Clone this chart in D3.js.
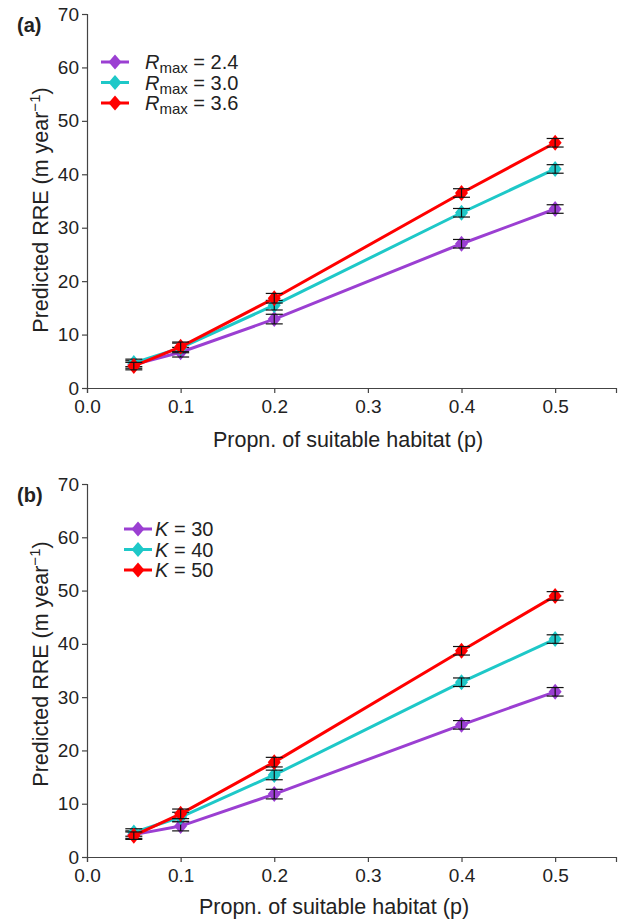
<!DOCTYPE html>
<html>
<head>
<meta charset="utf-8">
<script src="https://cdn.jsdelivr.net/npm/d3@7"></script>
<style>
  body { margin: 0; background: #fff; }
  text { font-family: "Liberation Sans", Arial, sans-serif; fill: #222; }
</style>
</head>
<body>
<div id="app"></div>
<script>
// data
const props = [0.05, 0.1, 0.2, 0.4, 0.5];
const xTicks = [0.0, 0.1, 0.2, 0.3, 0.4, 0.5];
const yTicks = [0, 10, 20, 30, 40, 50, 60, 70];

const rmaxLabels = ['2.4', '3.0', '3.6'];
const rmax24 = [4.4, 6.7, 12.9, 27.0, 33.5];
const rmax30 = [4.7, 7.5, 15.5, 32.8, 41.0];
const rmax36 = [4.1, 7.7, 16.8, 36.5, 45.9];
const errA = [0.7, 0.9, 0.9, 0.8, 0.8];

const kLabels = ['30', '40', '50'];
const k30 = [4.2, 5.8, 11.8, 24.8, 31.0];
const k40 = [4.6, 7.5, 15.4, 32.8, 40.9];
const k50 = [4.0, 8.1, 17.8, 38.7, 49.0];
const errB = [0.7, 0.9, 0.9, 0.8, 0.8];

const colors = ['#9b3fd2', '#1ec8c8', '#ff0000'];

const width = 618, height = 921;
const svg = d3.select('#app').append('svg')
  .attr('width', width).attr('height', height);

const x = d3.scaleLinear().domain([0, 0.565]).range([87, 616]);

function panel(opt) {
  const g = svg.append('g');
  const y = d3.scaleLinear().domain([0, 70]).range([opt.y0, opt.y1]);

  // axes
  const xAxis = d3.axisBottom(x).tickValues(xTicks).tickFormat(d3.format('.1f'))
    .tickSizeOuter(0).tickSize(5).tickPadding(3);
  const gx = g.append('g').attr('transform', `translate(0,${opt.y0})`).call(xAxis);
  const yAxis = d3.axisLeft(y).tickValues(yTicks).tickSizeOuter(0).tickSize(5).tickPadding(3);
  const gy = g.append('g').attr('transform', `translate(${x(0)},0)`).call(yAxis);
  [gx, gy].forEach(a => {
    a.selectAll('path, line').attr('stroke', '#444').attr('stroke-width', 1.2);
    a.selectAll('text').style('font-size', '19px').attr('fill', '#222');
  });
  gx.selectAll('text').attr('dy', '0.9em');

  // series
  opt.series.forEach((vals, si) => {
    const pts = props.map((p, i) => ({ p, v: vals[i], e: opt.err[i] }));
    g.append('path').datum(pts)
      .attr('fill', 'none').attr('stroke', colors[si]).attr('stroke-width', 3)
      .attr('d', d3.line().x(d => x(d.p)).y(d => y(d.v)));
    g.selectAll(null).data(pts).join('path')
      .attr('d', 'M0,-8L6.5,0L0,8L-6.5,0Z')
      .attr('transform', d => `translate(${x(d.p)},${y(d.v)})`)
      .attr('fill', colors[si]);
    const eb = g.selectAll(null).data(pts).join('g')
      .attr('stroke', '#111').attr('stroke-width', 1.2);
    eb.append('line').attr('x1', d => x(d.p)).attr('x2', d => x(d.p))
      .attr('y1', d => y(d.v - d.e)).attr('y2', d => y(d.v + d.e));
    eb.append('line').attr('x1', d => x(d.p) - 8.5).attr('x2', d => x(d.p) + 8.5)
      .attr('y1', d => y(d.v - d.e)).attr('y2', d => y(d.v - d.e));
    eb.append('line').attr('x1', d => x(d.p) - 8.5).attr('x2', d => x(d.p) + 8.5)
      .attr('y1', d => y(d.v + d.e)).attr('y2', d => y(d.v + d.e));
  });

  // legend
  opt.labels.forEach((lab, i) => {
    const ly = opt.legY + i * 20.5;
    g.append('line').attr('x1', opt.legX - 14).attr('x2', opt.legX + 14)
      .attr('y1', ly).attr('y2', ly).attr('stroke', colors[i]).attr('stroke-width', 3);
    g.append('path').attr('d', 'M0,-7.5L6.5,0L0,7.5L-6.5,0Z')
      .attr('transform', `translate(${opt.legX},${ly})`).attr('fill', colors[i]);
    const t = g.append('text').attr('x', opt.legX + opt.textGap).attr('y', ly + 7)
      .style('font-size', '20px');
    t.append('tspan').attr('font-style', 'italic').text(opt.sym);
    if (opt.sub) {
      t.append('tspan').attr('dy', 4).style('font-size', '15px').text(opt.sub);
      t.append('tspan').attr('dy', -4).text(' = ' + lab);
    } else {
      t.append('tspan').text(' = ' + lab);
    }
  });

  // titles
  g.append('text').attr('x', 17).attr('y', opt.y1 + 18)
    .style('font-size', '20px').style('font-weight', 'bold').text(opt.tag);
  g.append('text').attr('x', opt.titleX).attr('y', opt.y0 + opt.titleDy)
    .attr('text-anchor', 'middle').style('font-size', '21.5px')
    .text('Propn. of suitable habitat (p)');
  const yt = g.append('text')
    .attr('transform', `translate(48,${opt.yTitleY}) rotate(-90)`)
    .attr('text-anchor', 'middle').style('font-size', '21.5px');
  yt.append('tspan').text('Predicted RRE (m year');
  yt.append('tspan').attr('dy', -8).style('font-size', '15px').text('\u22121');
  yt.append('tspan').attr('dy', 8).text(')');
}

panel({ y0: 388, y1: 14, series: [rmax24, rmax30, rmax36], err: errA,
  labels: rmaxLabels, sym: 'R', sub: 'max', legX: 115, legY: 62, textGap: 30, tag: '(a)',
  titleX: 348, titleDy: 59, yTitleY: 210 });
panel({ y0: 857, y1: 484, series: [k30, k40, k50], err: errB,
  labels: kLabels, sym: 'K', sub: null, legX: 138, legY: 529, textGap: 17, tag: '(b)',
  titleX: 334, titleDy: 57, yTitleY: 664 });
</script>
</body>
</html>
